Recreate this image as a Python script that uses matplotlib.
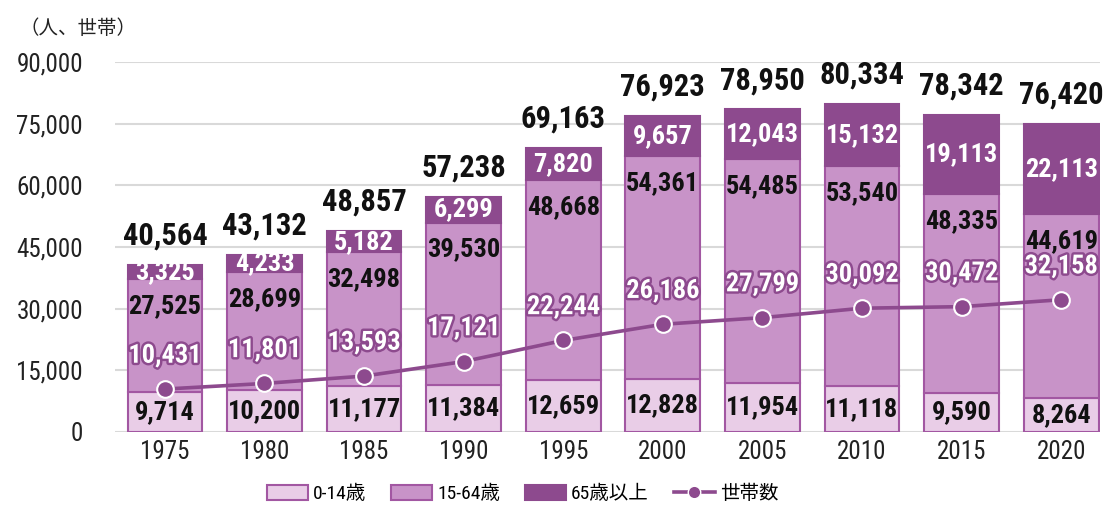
import numpy as np
import matplotlib
matplotlib.use('Agg')
import matplotlib.pyplot as plt
import matplotlib.patheffects as pe
from matplotlib.lines import Line2D
from matplotlib.patches import Patch

plt.rcParams['font.family'] = ['Roboto Condensed', 'Noto Sans CJK JP', 'DejaVu Sans']

years = ['1975', '1980', '1985', '1990', '1995', '2000', '2005', '2010', '2015', '2020']
age_0_14 = [9714, 10200, 11177, 11384, 12659, 12828, 11954, 11118, 9590, 8264]
age_15_64 = [27525, 28699, 32498, 39530, 48668, 54361, 54485, 53540, 48335, 44619]
age_65_over = [3325, 4233, 5182, 6299, 7820, 9657, 12043, 15132, 19113, 22113]
totals = [40564, 43132, 48857, 57238, 69163, 76923, 78950, 80334, 78342, 76420]
households = [10431, 11801, 13593, 17121, 22244, 26186, 27799, 30092, 30472, 32158]
y_ticks = [0, 15000, 30000, 45000, 60000, 75000, 90000]

c_light = '#e9cde7'
c_mid = '#c893c8'
c_dark = '#8d4a8e'
c_edge = '#a257a2'
c_line = '#8d4a8e'

fig = plt.figure(figsize=(11.05, 5.07), dpi=100)
ax = fig.add_axes([0.104, 0.148, 0.8915, 0.73])

x = np.arange(len(years))
a = np.array(age_0_14)
b = np.array(age_15_64)
c = np.array(age_65_over)
w = 0.75

ax.bar(x, a, w, color=c_light, edgecolor=c_edge, linewidth=1.5, zorder=2)
ax.bar(x, b, w, bottom=a, color=c_mid, edgecolor=c_edge, linewidth=1.5, zorder=2)
ax.bar(x, c, w, bottom=a + b, color=c_dark, edgecolor=c_dark, linewidth=1.5, zorder=2)
ax.plot(x, households, color=c_line, lw=2.6, marker='o', ms=12,
        mfc=c_line, mec='white', mew=1.5, zorder=4)

lab_kw = dict(ha='center', va='center', fontsize=19, fontweight='bold', zorder=5)
for i in range(len(years)):
    ax.text(x[i], a[i] / 2, f'{a[i]:,}', color='#111111', **lab_kw)
    ax.annotate(f'{b[i]:,}', (x[i], a[i] + b[i]), xytext=(0, -19.5),
                textcoords='offset points', color='#111111', **lab_kw)
    ax.text(x[i], a[i] + b[i] + c[i] / 2, f'{c[i]:,}', color='white', **lab_kw)
    ax.annotate(f'{totals[i]:,}', (x[i], a[i] + b[i] + c[i]), xytext=(0, 21),
                textcoords='offset points', color='#111111',
                ha='center', va='center', fontsize=22, fontweight='bold', zorder=5)
    t = ax.annotate(f'{households[i]:,}', (x[i], households[i]), xytext=(0, 24),
                    textcoords='offset points', color='white', **lab_kw)
    t.set_path_effects([pe.withStroke(linewidth=3.5, foreground=c_line)])

ax.set_xlim(-0.502, 9.39)
ax.set_ylim(0, 90000)
ax.set_yticks(y_ticks)
ax.set_yticklabels([f'{v:,}' for v in y_ticks])
ax.set_xticks(x)
ax.set_xticklabels(years)
ax.tick_params(axis='both', length=0, labelsize=18, colors='#222222')
ax.tick_params(axis='y', pad=23)
ax.tick_params(axis='x', pad=6)
ax.grid(axis='y', color='#d9d9d9', lw=1.5, zorder=0)
ax.set_axisbelow(True)
for s in ax.spines.values():
    s.set_visible(False)

fig.text(0.018, 0.943, '（人、世帯）', fontsize=14, color='#222222', va='center')

handles = [
    Patch(facecolor=c_light, edgecolor=c_edge, lw=1.5),
    Patch(facecolor=c_mid, edgecolor=c_edge, lw=1.5),
    Patch(facecolor=c_dark, edgecolor=c_dark, lw=1.5),
    Line2D([], [], color=c_line, lw=2.6, marker='o', ms=9, mfc=c_line, mec='white'),
]
fig.legend(handles, ['0-14歳', '15-64歳', '65歳以上', '世帯数'], loc='center',
           bbox_to_anchor=(0.473, 0.026), ncol=4, frameon=False, fontsize=14,
           handlelength=2.1, handleheight=0.8, columnspacing=1.3, handletextpad=0.25)

fig.savefig('out.png', dpi=100)
